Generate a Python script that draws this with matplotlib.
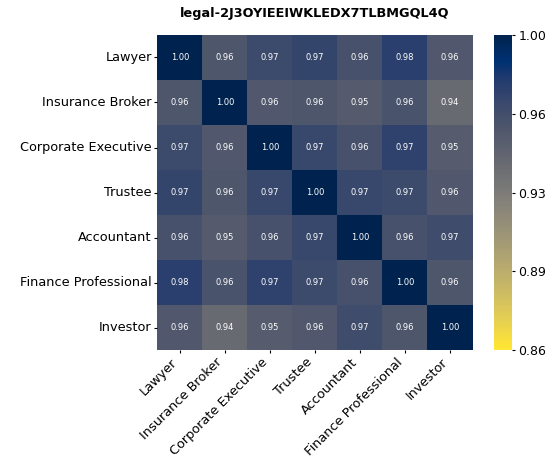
import numpy as np
import matplotlib
matplotlib.use("Agg")
import matplotlib.pyplot as plt
import seaborn as sns

roles = ["Lawyer", "Insurance Broker", "Corporate Executive", "Trustee",
         "Accountant", "Finance Professional", "Investor"]

# similarity matrix (symmetric)
sim = np.array([
    [1.000, 0.958, 0.968, 0.972, 0.962, 0.976, 0.956],
    [0.958, 1.000, 0.956, 0.958, 0.954, 0.960, 0.942],
    [0.968, 0.956, 1.000, 0.970, 0.962, 0.974, 0.953],
    [0.972, 0.958, 0.970, 1.000, 0.970, 0.968, 0.956],
    [0.962, 0.954, 0.962, 0.970, 1.000, 0.962, 0.966],
    [0.976, 0.960, 0.974, 0.968, 0.962, 1.000, 0.958],
    [0.956, 0.942, 0.953, 0.956, 0.966, 0.958, 1.000],
])

vmin, vmax = 0.857, 1.0

fig = plt.figure(figsize=(5.52, 4.59), dpi=100)
ax = fig.add_axes([0.285, 0.237, 0.571, 0.687])
cax = fig.add_axes([0.895, 0.237, 0.033, 0.687])

sns.heatmap(sim, ax=ax, cbar_ax=cax, cmap="cividis_r", vmin=vmin, vmax=vmax,
            annot=True, fmt=".2f", annot_kws={"size": 6, "color": "white"},
            xticklabels=roles, yticklabels=roles)

ticks = np.linspace(vmin, vmax, 5)
cb = ax.collections[0].colorbar
cb.set_ticks(ticks)
cb.set_ticklabels([f"{t:.2f}" for t in ticks])
cb.ax.tick_params(labelsize=9, length=2.5, pad=2)
cb.outline.set_visible(False)

ax.set_xticklabels(roles, rotation=45, ha="right", fontsize=9.3)
ax.set_yticklabels(roles, rotation=0, fontsize=9.3)
ax.tick_params(length=2.5, pad=1.5)
ax.set_title("legal-2J3OYIEEIWKLEDX7TLBMGQL4Q", fontsize=9.3, fontweight="bold", pad=13)

fig.savefig("out.png", dpi=100)
